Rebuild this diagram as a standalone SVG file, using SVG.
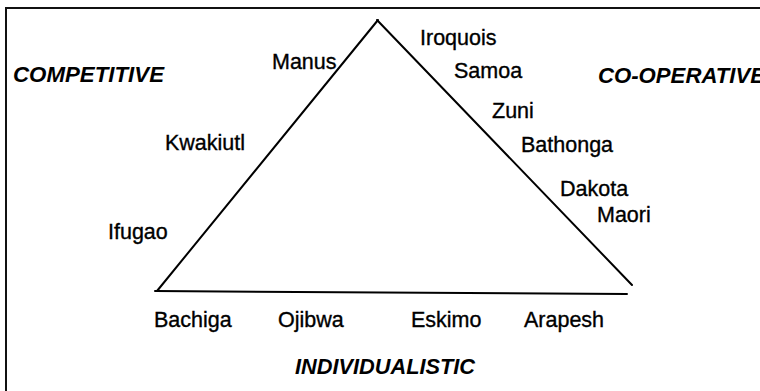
<svg xmlns="http://www.w3.org/2000/svg" width="760" height="391" viewBox="0 0 760 391">
<style>
.t{font-family:"Liberation Sans",Arial,sans-serif;font-size:21.5px;fill:#000;stroke:#000;stroke-width:0.35}
.h{font-family:"Liberation Sans",Arial,sans-serif;font-size:21.5px;font-weight:bold;font-style:italic;fill:#000}
.ln{stroke:#000;stroke-width:2;fill:none;stroke-linecap:round}
</style>
<rect width="760" height="391" fill="#fff"/>
<g id="frame"><path d="M6,391 V8 H760" fill="none" stroke="#111" stroke-width="2"/></g>
<g id="connectors">
<line class="ln" x1="378" y1="20" x2="157" y2="291"/>
<line class="ln" x1="377" y1="20" x2="632" y2="285"/>
<line class="ln" x1="155" y1="291" x2="627" y2="294"/>
</g>
<g id="axis-competitive"><text class="h" x="13" y="82" textLength="151" lengthAdjust="spacingAndGlyphs">COMPETITIVE</text></g>
<g id="axis-cooperative"><text class="h" x="598" y="83" textLength="167" lengthAdjust="spacingAndGlyphs">CO-OPERATIVE</text></g>
<g id="axis-individualistic"><text class="h" x="295" y="374" textLength="180" lengthAdjust="spacingAndGlyphs">INDIVIDUALISTIC</text></g>
<g id="manus"><text class="t" x="272" y="69">Manus</text></g>
<g id="kwakiutl"><text class="t" x="165" y="150">Kwakiutl</text></g>
<g id="ifugao"><text class="t" x="108" y="239">Ifugao</text></g>
<g id="iroquois"><text class="t" x="420" y="45">Iroquois</text></g>
<g id="samoa"><text class="t" x="454" y="78">Samoa</text></g>
<g id="zuni"><text class="t" x="492" y="118">Zuni</text></g>
<g id="bathonga"><text class="t" x="521" y="152">Bathonga</text></g>
<g id="dakota"><text class="t" x="560" y="196">Dakota</text></g>
<g id="maori"><text class="t" x="597" y="222">Maori</text></g>
<g id="bachiga"><text class="t" x="154" y="327">Bachiga</text></g>
<g id="ojibwa"><text class="t" x="278" y="327">Ojibwa</text></g>
<g id="eskimo"><text class="t" x="411" y="327">Eskimo</text></g>
<g id="arapesh"><text class="t" x="524" y="327">Arapesh</text></g>
</svg>
